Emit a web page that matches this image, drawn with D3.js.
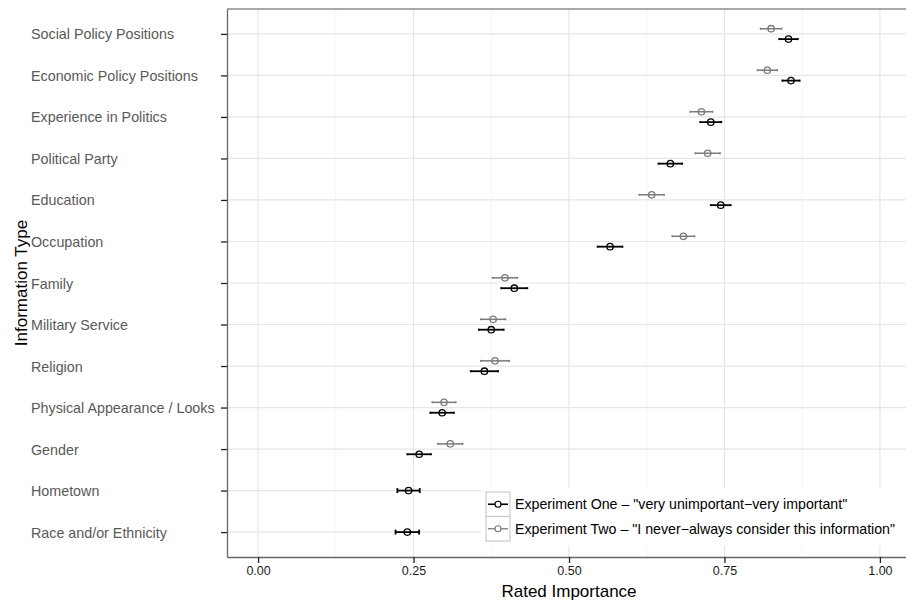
<!DOCTYPE html>
<html>
<head>
<meta charset="utf-8">
<script src="https://cdn.jsdelivr.net/npm/d3@7"></script>
<style>
  html, body { margin: 0; padding: 0; background: #fff; }
  svg { display: block; font-family: "Liberation Sans", Arial, Helvetica, sans-serif; }
</style>
</head>
<body>
<svg id="chart" width="906" height="604"></svg>
<script>
// Information types, top to bottom
const categories = [
  "Social Policy Positions",
  "Economic Policy Positions",
  "Experience in Politics",
  "Political Party",
  "Education",
  "Occupation",
  "Family",
  "Military Service",
  "Religion",
  "Physical Appearance / Looks",
  "Gender",
  "Hometown",
  "Race and/or Ethnicity"
];

// Experiment One: mean rated importance and half-width of the interval
const expOneMean = [0.853, 0.857, 0.728, 0.663, 0.744, 0.566, 0.412, 0.375, 0.364, 0.296, 0.259, 0.242, 0.240];
const expOneErr  = [0.015, 0.014, 0.017, 0.019, 0.016, 0.020, 0.021, 0.020, 0.022, 0.019, 0.019, 0.018, 0.019];

// Experiment Two (not asked for the last two items)
const expTwoMean = [0.825, 0.819, 0.713, 0.723, 0.633, 0.684, 0.397, 0.378, 0.381, 0.299, 0.309, null, null];
const expTwoErr  = [0.017, 0.016, 0.018, 0.020, 0.020, 0.018, 0.020, 0.020, 0.023, 0.019, 0.020, null, null];

const seriesNames = [
  "Experiment One \u2013 \"very unimportant\u2212very important\"",
  "Experiment Two \u2013 \"I never\u2212always consider this information\""
];
const seriesColors = ["#000000", "#7a7a7a"];

const xTicks = [0, 0.25, 0.5, 0.75, 1];
const xMinor = [0.125, 0.375, 0.625, 0.875];
const xDomain = [-0.05, 1.05];

const svg = d3.select("#chart");

const panel = { left: 227, top: 9, right: 911, bottom: 557 };

const x = d3.scaleLinear().domain(xDomain).range([panel.left, panel.right]);
const y = d3.scalePoint().domain(categories).range([panel.top, panel.bottom]).padding(0.6);
const step = y.step();

// grid
const grid = svg.append("g");
grid.selectAll("line.minor").data(xMinor).join("line")
  .attr("x1", d => x(d)).attr("x2", d => x(d))
  .attr("y1", panel.top).attr("y2", panel.bottom)
  .attr("stroke", "#f2f2f2").attr("stroke-width", 0.8);
grid.selectAll("line.majx").data(xTicks).join("line")
  .attr("x1", d => x(d)).attr("x2", d => x(d))
  .attr("y1", panel.top).attr("y2", panel.bottom)
  .attr("stroke", "#e6e6e6").attr("stroke-width", 1.2);
grid.selectAll("line.majy").data(categories).join("line")
  .attr("x1", panel.left).attr("x2", panel.right)
  .attr("y1", d => y(d)).attr("y2", d => y(d))
  .attr("stroke", "#e6e6e6").attr("stroke-width", 1.2);

// build point records, dodged vertically when both experiments are present
const rows = [];
categories.forEach((c, i) => {
  const both = expTwoMean[i] != null;
  const off = both ? step * 0.125 : 0;
  if (both) rows.push({ cat: c, s: 1, m: expTwoMean[i], e: expTwoErr[i], dy: -off, cap: 2 });
  rows.push({ cat: c, s: 0, m: expOneMean[i], e: expOneErr[i], dy: both ? off : 0, cap: both ? 2 : 5 });
});

const marks = svg.append("g");
const g = marks.selectAll("g.pt").data(rows).join("g")
  .attr("transform", d => `translate(0,${y(d.cat) + d.dy})`);
g.append("line")
  .attr("x1", d => x(d.m - d.e)).attr("x2", d => x(d.m + d.e))
  .attr("stroke", d => seriesColors[d.s]).attr("stroke-width", d => d.s ? 1.5 : 1.8);
g.each(function(d) {
  const sel = d3.select(this);
  [d.m - d.e, d.m + d.e].forEach(v => {
    sel.append("line")
      .attr("x1", x(v)).attr("x2", x(v))
      .attr("y1", -d.cap / 2).attr("y2", d.cap / 2)
      .attr("stroke", seriesColors[d.s]).attr("stroke-width", d.s ? 1.5 : 1.8);
  });
});
g.append("circle")
  .attr("cx", d => x(d.m)).attr("cy", 0).attr("r", 3.2)
  .attr("fill", "none").attr("stroke", d => seriesColors[d.s]).attr("stroke-width", 1.3);

// panel border (top) and axis lines
svg.append("line").attr("x1", panel.left).attr("x2", panel.right)
  .attr("y1", panel.top).attr("y2", panel.top)
  .attr("stroke", "#8c8c8c").attr("stroke-width", 1.4);

const xAxis = svg.append("g").attr("transform", `translate(0,${panel.bottom})`)
  .call(d3.axisBottom(x).tickValues(xTicks).tickFormat(d3.format(".2f")).tickSize(6).tickSizeOuter(0));
xAxis.select(".domain").attr("stroke", "#666").attr("stroke-width", 1.3);
xAxis.selectAll(".tick line").attr("stroke", "#222").attr("stroke-width", 1.3);
xAxis.selectAll(".tick text").attr("fill", "#1a1a1a")
  .style("font-size", "12.5px").attr("dy", "0.71em").attr("y", 9);

const yAxis = svg.append("g").attr("transform", `translate(${panel.left},0)`)
  .call(d3.axisLeft(y).tickSize(6).tickSizeOuter(0));
yAxis.select(".domain").attr("stroke", "#666").attr("stroke-width", 1.3);
yAxis.selectAll(".tick line").attr("stroke", "#222").attr("stroke-width", 1.3);
yAxis.selectAll(".tick text").attr("fill", "#595959")
  .style("font-size", "14.3px").attr("text-anchor", "start")
  .attr("x", 31 - panel.left).attr("dy", "0.35em");

// axis titles
svg.append("text").attr("x", (x(0) + x(1)) / 2).attr("y", 597)
  .attr("text-anchor", "middle").style("font-size", "17px").attr("fill", "#000")
  .text("Rated Importance");
svg.append("text")
  .attr("transform", `translate(27,${(panel.top + panel.bottom) / 2}) rotate(-90)`)
  .attr("text-anchor", "middle").style("font-size", "17px").attr("fill", "#000")
  .text("Information Type");

// legend
const lg = svg.append("g").attr("transform", "translate(481,488)");
lg.append("rect").attr("x", 0).attr("y", 0).attr("width", 440).attr("height", 58).attr("fill", "#fff");
seriesNames.forEach((name, i) => {
  const ky = 4 + i * 24.5;
  const k = lg.append("g").attr("transform", `translate(5,${ky})`);
  k.append("rect").attr("width", 24).attr("height", 24.5)
    .attr("fill", "#fff").attr("stroke", "#cccccc").attr("stroke-width", 1.2);
  k.append("line").attr("x1", 2).attr("x2", 22).attr("y1", 12.25).attr("y2", 12.25)
    .attr("stroke", seriesColors[i]).attr("stroke-width", i ? 1.3 : 1.6);
  k.append("circle").attr("cx", 12).attr("cy", 12.25).attr("r", 3)
    .attr("fill", "#fff").attr("stroke", seriesColors[i]).attr("stroke-width", 1.2);
  lg.append("text").attr("x", 34).attr("y", ky + 12.25).attr("dy", "0.35em")
    .style("font-size", "14.2px").attr("fill", "#000").text(name);
});
</script>
</body>
</html>
